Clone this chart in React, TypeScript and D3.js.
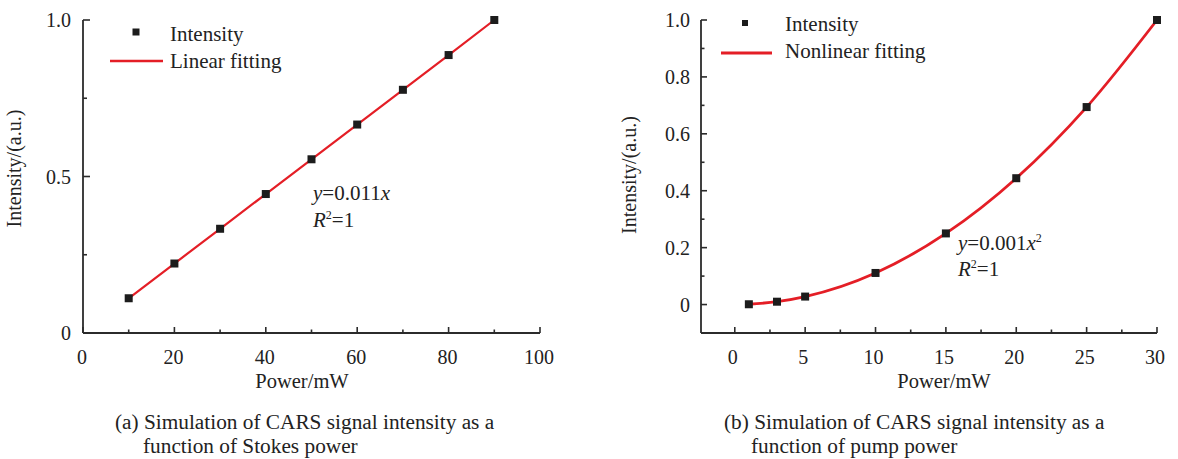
import React from "react";
import * as d3 from "d3";

const stokesPower = [10, 20, 30, 40, 50, 60, 70, 80, 90];
const stokesIntensity = [0.111, 0.222, 0.333, 0.444, 0.555, 0.666, 0.777, 0.888, 1.0];
const pumpPower = [1, 3, 5, 10, 15, 20, 25, 30];
const pumpIntensity = [0.001, 0.01, 0.028, 0.111, 0.25, 0.444, 0.694, 1.0];

const leftXMajor = [0, 20, 40, 60, 80, 100];
const leftXMinor = [10, 30, 50, 70, 90];
const leftYMajor = [0, 0.5, 1.0];
const leftYMinor = [0.25, 0.75];
const leftYLabels = ["0", "0.5", "1.0"];

const rightXMajor = [0, 5, 10, 15, 20, 25, 30];
const rightXMinor = [2.5, 7.5, 12.5, 17.5, 22.5, 27.5];
const rightYMajor = [0, 0.2, 0.4, 0.6, 0.8, 1.0];
const rightYMinor = [0.1, 0.3, 0.5, 0.7, 0.9];
const rightYLabels = ["0", "0.2", "0.4", "0.6", "0.8", "1.0"];

const FONT = "'Liberation Serif', 'Times New Roman', serif";
const AX = "#2b2b2b";
const RED = "#e41e26";
const MK = "#1c1c1c";

export default function App() {
  const lx = d3.scaleLinear().domain([0, 100]).range([83, 540]);
  const ly = d3.scaleLinear().domain([0, 1]).range([333, 20]);
  const rx = d3.scaleLinear().domain([-2.4, 30]).range([701, 1157]);
  const ry = d3.scaleLinear().domain([-0.1, 1.0]).range([333, 20]);

  const leftPts: [number, number][] = stokesPower.map((p, i) => [p, stokesIntensity[i]]);
  const rightPts: [number, number][] = pumpPower.map((p, i) => [p, pumpIntensity[i]]);

  const leftLine = d3
    .line<[number, number]>()
    .x((d) => lx(d[0]))
    .y((d) => ly(d[1]))(leftPts);
  const rightLine = d3
    .line<[number, number]>()
    .x((d) => rx(d[0]))
    .y((d) => ry(d[1]))
    .curve(d3.curveMonotoneX)(rightPts);

  const ms = 8;
  const txt = { fontFamily: FONT, fill: "#222" } as const;

  return (
    <svg
      width={1178}
      height={459}
      style={{ position: "fixed", left: 0, top: 0, background: "#fff" }}
    >
      <rect x={0} y={0} width={1178} height={459} fill="#fff" />

      {/* ---------- LEFT PANEL ---------- */}
      <g>
        <line x1={lx(0)} x2={lx(0)} y1={ly(1)} y2={ly(0)} stroke={AX} strokeWidth={1.8} />
        <line x1={lx(0)} x2={lx(100)} y1={ly(0)} y2={ly(0)} stroke={AX} strokeWidth={1.8} />
        {leftYMajor.map((v) => (
          <line key={"lym" + v} x1={lx(0)} x2={lx(0) + 7} y1={ly(v)} y2={ly(v)} stroke={AX} strokeWidth={1.6} />
        ))}
        {leftYMinor.map((v) => (
          <line key={"lyn" + v} x1={lx(0)} x2={lx(0) + 4} y1={ly(v)} y2={ly(v)} stroke={AX} strokeWidth={1.6} />
        ))}
        {leftXMajor.map((v) => (
          <line key={"lxm" + v} x1={lx(v)} x2={lx(v)} y1={ly(0)} y2={ly(0) - 6} stroke={AX} strokeWidth={1.6} />
        ))}
        {leftXMinor.map((v) => (
          <line key={"lxn" + v} x1={lx(v)} x2={lx(v)} y1={ly(0)} y2={ly(0) - 3.5} stroke={AX} strokeWidth={1.6} />
        ))}
        {leftYMajor.map((v, i) => (
          <text key={"lyl" + v} x={lx(0) - 12} y={ly(v) + 7} textAnchor="end" fontSize={20} {...txt}>
            {leftYLabels[i]}
          </text>
        ))}
        {leftXMajor.map((v) => (
          <text key={"lxl" + v} x={lx(v) - 1} y={364} textAnchor="middle" fontSize={20} {...txt}>
            {v}
          </text>
        ))}
        <text x={302} y={388} textAnchor="middle" fontSize={20.5} {...txt}>
          Power/mW
        </text>
        <text
          x={0}
          y={0}
          transform={`translate(21,168.5) rotate(-90)`}
          textAnchor="middle"
          fontSize={20}
          {...txt}
        >
          Intensity/(a.u.)
        </text>

        <path d={leftLine || ""} fill="none" stroke={RED} strokeWidth={2.2} />
        {leftPts.map((d, i) => (
          <rect key={"lp" + i} x={lx(d[0]) - ms / 2} y={ly(d[1]) - ms / 2} width={ms} height={ms} fill={MK} />
        ))}

        <rect x={136 - 3.5} y={32 - 3.5} width={7} height={7} fill={MK} />
        <text x={170} y={41} fontSize={21} {...txt}>
          Intensity
        </text>
        <line x1={110} x2={163} y1={61} y2={61} stroke={RED} strokeWidth={2.4} />
        <text x={170} y={68} fontSize={21} {...txt}>
          Linear fitting
        </text>

        <text x={313} y={200} fontSize={21} {...txt}>
          <tspan fontStyle="italic">y</tspan>
          <tspan>=0.011</tspan>
          <tspan fontStyle="italic">x</tspan>
        </text>
        <text x={313} y={227} fontSize={21} {...txt}>
          <tspan fontStyle="italic">R</tspan>
          <tspan fontSize={12} dy={-8}>2</tspan>
          <tspan dy={8}>=1</tspan>
        </text>

        <text x={115} y={429} fontSize={21.3} {...txt}>
          (a) Simulation of CARS signal intensity as a
        </text>
        <text x={143} y={453} fontSize={21.3} {...txt}>
          function of Stokes power
        </text>
      </g>

      {/* ---------- RIGHT PANEL ---------- */}
      <g>
        <line x1={rx(-2.4)} x2={rx(-2.4)} y1={ry(1)} y2={ry(-0.1)} stroke={AX} strokeWidth={1.8} />
        <line x1={rx(-2.4)} x2={rx(30)} y1={ry(-0.1)} y2={ry(-0.1)} stroke={AX} strokeWidth={1.8} />
        {rightYMajor.map((v) => (
          <line key={"rym" + v} x1={rx(-2.4)} x2={rx(-2.4) + 6} y1={ry(v)} y2={ry(v)} stroke={AX} strokeWidth={1.6} />
        ))}
        {rightYMinor.map((v) => (
          <line key={"ryn" + v} x1={rx(-2.4)} x2={rx(-2.4) + 3.5} y1={ry(v)} y2={ry(v)} stroke={AX} strokeWidth={1.6} />
        ))}
        {rightXMajor.map((v) => (
          <line key={"rxm" + v} x1={rx(v)} x2={rx(v)} y1={ry(-0.1)} y2={ry(-0.1) - 6} stroke={AX} strokeWidth={1.6} />
        ))}
        {rightXMinor.map((v) => (
          <line key={"rxn" + v} x1={rx(v)} x2={rx(v)} y1={ry(-0.1)} y2={ry(-0.1) - 3.5} stroke={AX} strokeWidth={1.6} />
        ))}
        {rightYMajor.map((v, i) => (
          <text key={"ryl" + v} x={690} y={ry(v) + 7} textAnchor="end" fontSize={20} {...txt}>
            {rightYLabels[i]}
          </text>
        ))}
        {rightXMajor.map((v) => (
          <text key={"rxl" + v} x={rx(v) - 2} y={364} textAnchor="middle" fontSize={20} {...txt}>
            {v}
          </text>
        ))}
        <text x={944} y={388} textAnchor="middle" fontSize={20.5} {...txt}>
          Power/mW
        </text>
        <text
          x={0}
          y={0}
          transform={`translate(636,175) rotate(-90)`}
          textAnchor="middle"
          fontSize={20}
          {...txt}
        >
          Intensity/(a.u.)
        </text>

        <path d={rightLine || ""} fill="none" stroke={RED} strokeWidth={2.8} />
        {rightPts.map((d, i) => (
          <rect key={"rp" + i} x={rx(d[0]) - ms / 2} y={ry(d[1]) - ms / 2} width={ms} height={ms} fill={MK} />
        ))}

        <rect x={745 - 3} y={23 - 3} width={6} height={6} fill={MK} />
        <text x={785} y={31} fontSize={21} {...txt}>
          Intensity
        </text>
        <line x1={721} x2={772} y1={53} y2={53} stroke={RED} strokeWidth={2.8} />
        <text x={785} y={58} fontSize={21} {...txt}>
          Nonlinear fitting
        </text>

        <text x={958} y={250} fontSize={21} {...txt}>
          <tspan fontStyle="italic">y</tspan>
          <tspan>=0.001</tspan>
          <tspan fontStyle="italic">x</tspan>
          <tspan fontSize={12} dy={-8}>2</tspan>
        </text>
        <text x={958} y={276} fontSize={21} {...txt}>
          <tspan fontStyle="italic">R</tspan>
          <tspan fontSize={12} dy={-8}>2</tspan>
          <tspan dy={8}>=1</tspan>
        </text>

        <text x={724} y={429} fontSize={21.3} {...txt}>
          (b) Simulation of CARS signal intensity as a
        </text>
        <text x={751} y={453} fontSize={21.3} {...txt}>
          function of pump power
        </text>
      </g>
    </svg>
  );
}
